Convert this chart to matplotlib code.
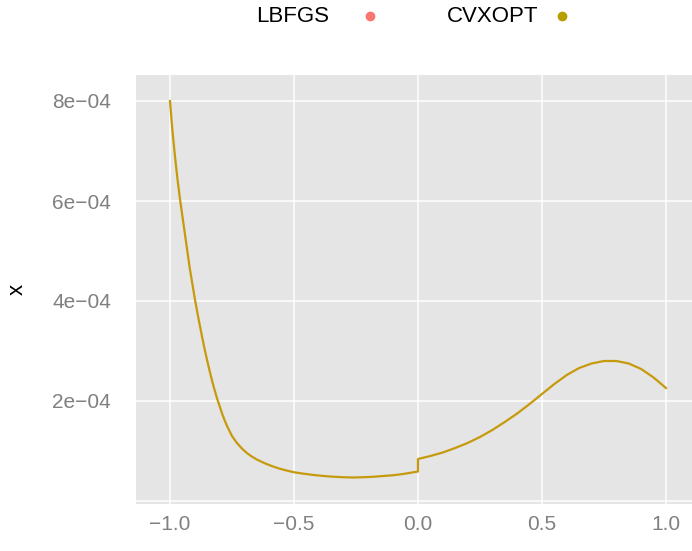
import matplotlib
matplotlib.use("Agg")
import matplotlib.pyplot as plt
from matplotlib.lines import Line2D

plt.rcParams['font.family'] = ['Liberation Sans', 'DejaVu Sans']

# values (y in units of 1e-4)
x_left = [-1.0, -0.99, -0.98, -0.97, -0.96, -0.95, -0.94, -0.93, -0.92, -0.91,
          -0.90, -0.89, -0.88, -0.87, -0.86, -0.85, -0.84, -0.83, -0.82, -0.81,
          -0.80, -0.79, -0.78, -0.77, -0.76, -0.75, -0.73, -0.71, -0.69, -0.67,
          -0.65, -0.62, -0.59, -0.56, -0.53, -0.50, -0.46, -0.42, -0.38, -0.34,
          -0.30, -0.26, -0.22, -0.18, -0.14, -0.10, -0.06, -0.03, 0.0]
y_left = [8.0, 7.4, 6.9, 6.45, 6.05, 5.7, 5.35, 5.0, 4.65, 4.35,
          4.05, 3.78, 3.52, 3.27, 3.03, 2.81, 2.60, 2.40, 2.22, 2.05,
          1.90, 1.75, 1.62, 1.50, 1.40, 1.30, 1.16, 1.05, 0.96, 0.89,
          0.83, 0.76, 0.70, 0.65, 0.61, 0.575, 0.545, 0.52, 0.50, 0.485,
          0.475, 0.47, 0.475, 0.485, 0.50, 0.515, 0.54, 0.565, 0.59]
x_right = [0.0, 0.05, 0.1, 0.15, 0.2, 0.25, 0.3, 0.35, 0.4, 0.45, 0.5,
           0.55, 0.6, 0.65, 0.7, 0.75, 0.8, 0.85, 0.9, 0.95, 1.0]
y_right = [0.84, 0.90, 0.97, 1.06, 1.16, 1.28, 1.42, 1.58, 1.75, 1.94, 2.14,
           2.34, 2.52, 2.66, 2.75, 2.80, 2.80, 2.75, 2.64, 2.47, 2.26]

series = ["LBFGS", "CVXOPT"]
series_colors = ["#F8766D", "#B79F00"]
line_color = "#C69A0C"

xticks = [-1.0, -0.5, 0.0, 0.5, 1.0]
xticklabels = ["\u22121.0", "\u22120.5", "0.0", "0.5", "1.0"]
yticks = [0.0, 2e-4, 4e-4, 6e-4, 8e-4]
yticklabels = ["", "2e\u221204", "4e\u221204", "6e\u221204", "8e\u221204"]

xs = x_left + x_right
ys = [v * 1e-4 for v in y_left + y_right]

W, H = 692, 551
fig = plt.figure(figsize=(W / 100, H / 100), dpi=100)
ax = fig.add_axes([136 / W, 47 / H, 1 - 136 / W, 429 / H])
ax.set_facecolor("#E5E5E5")
ax.plot(xs, ys, color=line_color, lw=1.6, solid_joinstyle="round", zorder=3)

ax.set_xlim(-1.137, 1.105)
ax.set_ylim(-6e-6, 8.52e-4)
ax.set_xticks(xticks)
ax.set_xticklabels(xticklabels)
ax.set_yticks(yticks)
ax.set_yticklabels(yticklabels)
ax.grid(True, color="white", lw=1.1)
ax.set_axisbelow(True)
for s in ax.spines.values():
    s.set_visible(False)
ax.tick_params(length=0, labelsize=15, labelcolor="#808080")
ax.tick_params(axis="y", pad=18)
ax.tick_params(axis="x", pad=8)
ax.set_ylabel("x", fontsize=16)
ax.yaxis.set_label_coords(-0.195, 0.5)

# legend at the top: label first, then its key
text_x = [256, 447]
dot_x = [370, 562]
for name, c, tx, dx in zip(series, series_colors, text_x, dot_x):
    fig.text(tx / W, 1 - 16 / H, name, fontsize=16, ha="left", va="center")
    fig.add_artist(Line2D([dx / W], [1 - 16 / H], ls="none", marker="o", ms=6,
                          mec=c, mfc=c, transform=fig.transFigure))

fig.savefig("out.png", dpi=100)
